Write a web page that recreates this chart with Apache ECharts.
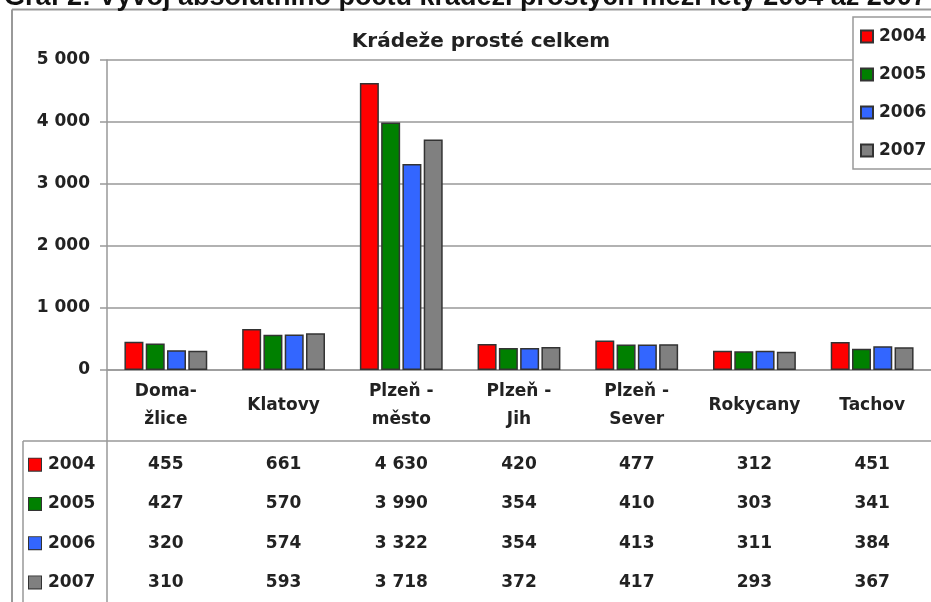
<!DOCTYPE html>
<html>
<head>
<meta charset="utf-8">
<script src="https://cdn.jsdelivr.net/npm/echarts@6/dist/echarts.min.js"></script>
<style>
  * { margin: 0; padding: 0; }
  body { background: #fff; }
</style>
</head>
<body>
<div id="main" style="width: 931px; height: 602px;"></div>
<script>
  // okresy
  var categories = ['Doma-\nžlice', 'Klatovy', 'Plzeň -\nměsto', 'Plzeň -\nJih', 'Plzeň -\nSever', 'Rokycany', 'Tachov']
  var years = ['2004', '2005', '2006', '2007']
  var v2004 = [455, 661, 4630, 420, 477, 312, 451]
  var v2005 = [427, 570, 3990, 354, 410, 303, 341]
  var v2006 = [320, 574, 3322, 354, 413, 311, 384]
  var v2007 = [310, 593, 3718, 372, 417, 293, 367]
  var yTicks = [0, 1000, 2000, 3000, 4000, 5000]
  var colors = ['#ff0000', '#008000', '#3366ff', '#808080']

  var values = [v2004, v2005, v2006, v2007]
  var font = 'DejaVu Sans'
  var txt = '#222'
  var line = '#999'

  function fmt (v) {
    return String(v).replace(/\B(?=(\d{3})+(?!\d))/g, ' ')
  }

  var rich = { t: { fontFamily: font, fontWeight: 'bold', fontSize: 17, color: txt, padding: [0, 0, 0, 7] } }
  years.forEach(function (y, i) {
    rich['c' + i] = { width: 12, height: 12, backgroundColor: colors[i], borderColor: '#333', borderWidth: 1 }
  })

  var series = []
  years.forEach(function (y, i) {
    series.push({
      name: y,
      type: 'bar',
      xAxisIndex: 0,
      yAxisIndex: 0,
      barWidth: 19,
      barGap: '12%',
      data: values[i],
      itemStyle: { color: colors[i], borderColor: '#333', borderWidth: 1.5 }
    })
  })
  // tabulka hodnot pod grafem
  years.forEach(function (y, i) {
    series.push({
      type: 'scatter',
      xAxisIndex: 1,
      yAxisIndex: 1,
      symbolSize: 0,
      itemStyle: { color: '#fff', opacity: 1 },
      silent: true,
      data: values[i].map(function (v, ci) { return [ci, i, v] }),
      label: {
        show: true,
        position: 'inside',
        formatter: function (p) { return fmt(p.value[2]) },
        fontFamily: font,
        fontWeight: 'bold',
        fontSize: 17,
        color: txt,
        textBorderWidth: 0
      }
    })
  })

  var charts = echarts.init(document.getElementById('main'))
  charts.setOption({
    animation: false,
    backgroundColor: '#fff',
    color: colors,
    title: {
      text: 'Krádeže prosté celkem',
      left: 476,
      textAlign: 'center',
      top: 27,
      textStyle: { fontFamily: font, fontWeight: 'bold', fontSize: 20, color: txt }
    },
    legend: {
      orient: 'vertical',
      left: 853,
      top: 17,
      padding: [11, 8, 10, 7],
      itemGap: 21,
      itemWidth: 12,
      itemHeight: 12,
      icon: 'rect',
      backgroundColor: '#fff',
      borderColor: line,
      borderWidth: 1.5,
      data: years,
      textStyle: { fontFamily: font, fontWeight: 'bold', fontSize: 17, color: txt, padding: [0, 0, 0, 1] }
    },
    grid: [
      { left: 107, width: 827, top: 60, height: 310 },
      { left: 107, width: 827, top: 445, height: 160 }
    ],
    xAxis: [
      {
        gridIndex: 0,
        type: 'category',
        data: categories,
        axisLine: { lineStyle: { color: line, width: 1.5 } },
        axisTick: { show: false },
        axisLabel: {
          interval: 0,
          margin: 36,
          verticalAlign: 'middle',
          lineHeight: 28,
          fontFamily: font,
          fontWeight: 'bold',
          fontSize: 17,
          color: txt
        }
      },
      { gridIndex: 1, type: 'category', data: categories, show: false }
    ],
    yAxis: [
      {
        gridIndex: 0,
        type: 'value',
        min: yTicks[0],
        max: yTicks[yTicks.length - 1],
        interval: 1000,
        axisLine: { show: true, lineStyle: { color: line, width: 1.5 } },
        axisTick: { show: true, length: 7, lineStyle: { color: line, width: 1.5 } },
        splitLine: { lineStyle: { color: line, width: 1.5 } },
        axisLabel: {
          margin: 17,
          formatter: fmt,
          fontFamily: font,
          fontWeight: 'bold',
          fontSize: 17,
          color: txt
        }
      },
      {
        gridIndex: 1,
        type: 'category',
        inverse: true,
        data: years,
        axisLine: { show: false },
        axisTick: { show: false },
        axisLabel: {
          align: 'left',
          margin: 78,
          formatter: function (v, i) { return '{c' + i + '|}{t|' + v + '}' },
          rich: rich
        }
      }
    ],
    graphic: [
      {
        type: 'text',
        style: {
          x: 4, y: -16,
          text: 'Graf 2: Vývoj absolutního počtu krádeží prostých mezi lety 2004 až 2007',
          font: 'bold 27px "Liberation Sans"',
          fill: '#111'
        },
        z: 100
      },
      { type: 'line', shape: { x1: 12, y1: 9.5, x2: 931, y2: 9.5 }, style: { stroke: line, lineWidth: 2 } },
      { type: 'line', shape: { x1: 12, y1: 9.5, x2: 12, y2: 602 }, style: { stroke: line, lineWidth: 2 } },
      { type: 'line', shape: { x1: 107, y1: 370, x2: 107, y2: 602 }, style: { stroke: line, lineWidth: 1.5 } },
      { type: 'line', shape: { x1: 23, y1: 441, x2: 931, y2: 441 }, style: { stroke: line, lineWidth: 1.5 } },
      { type: 'line', shape: { x1: 23, y1: 441, x2: 23, y2: 602 }, style: { stroke: line, lineWidth: 1.5 } }
    ],
    series: series
  })
</script>
</body>
</html>
